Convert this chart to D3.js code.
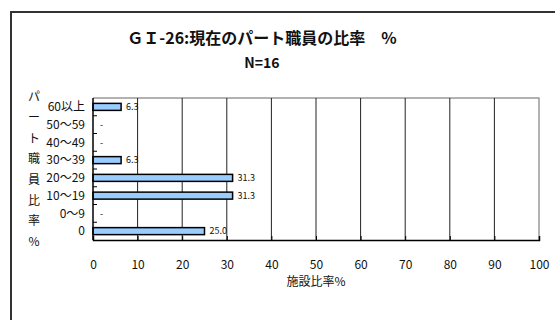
<!DOCTYPE html>
<html>
<head>
<meta charset="utf-8">
<script src="https://cdn.jsdelivr.net/npm/d3@7"></script>
<style>
  body { margin: 0; background: #fff; }
  text { font-family: "Liberation Sans Narrow", "Noto Sans CJK JP", sans-serif; fill: #111; }
  .title { font-family: "Noto Sans CJK JP", sans-serif; }
</style>
</head>
<body>
<svg id="chart"></svg>
<script>
// Chart data
const categories = ["60以上", "50～59", "40～49", "30～39", "20～29", "10～19", "0～9", "0"];
const values = [6.3, 0, 0, 6.3, 31.3, 31.3, 0, 25.0];
const xTicks = [0, 10, 20, 30, 40, 50, 60, 70, 80, 90, 100];
const titleLines = ["ＧＩ-26:現在のパート職員の比率　%", "N=16"];
const yTitle = "パート職員比率%";
const xTitle = "施設比率%";

const width = 555;
const height = 320;
const margin = { left: 93, right: 16, top: 98, bottom: 80 };

const rows = categories.map((c, i) => ({ c, v: values[i] }));

const svg = d3.select("#chart")
  .attr("width", width)
  .attr("height", height);

// Outer chart frame (runs off the right and bottom)
svg.append("rect")
  .attr("x", 11).attr("y", 12)
  .attr("width", 600).attr("height", 400)
  .attr("fill", "none")
  .attr("stroke", "#333")
  .attr("stroke-width", 2);

const x = d3.scaleLinear()
  .domain([0, 100])
  .range([margin.left, width - margin.right]);

const y = d3.scaleBand()
  .domain(categories)
  .range([margin.top, height - margin.bottom]);

const x0 = x(0), x1 = x(100);
const [y0, y1] = y.range();

// Plot frame (top and right in gray)
svg.append("path")
  .attr("d", `M${x0},${y0}H${x1}V${y1}`)
  .attr("fill", "none")
  .attr("stroke", "#999")
  .attr("stroke-width", 1.5);

// Vertical gridlines
svg.selectAll(".grid")
  .data(xTicks.filter(d => d > 0 && d < 100))
  .enter()
  .append("line")
  .attr("x1", d => x(d)).attr("x2", d => x(d))
  .attr("y1", y0).attr("y2", y1)
  .attr("stroke", "#222")
  .attr("stroke-width", 1);

// Bars
svg.selectAll(".bar")
  .data(rows.filter(d => d.v > 0))
  .enter()
  .append("rect")
  .attr("class", "bar")
  .attr("x", x(0))
  .attr("y", d => y(d.c) + y.bandwidth() / 2 - 3.5)
  .attr("height", 7)
  .attr("width", d => x(d.v) - x(0))
  .attr("fill", "#99ccff")
  .attr("stroke", "#000")
  .attr("stroke-width", 1.5);

// Value labels ("-" for empty rows)
svg.selectAll(".val")
  .data(rows)
  .enter()
  .append("text")
  .attr("x", d => d.v > 0 ? x(d.v) + 5 : x(0) + 7)
  .attr("y", d => y(d.c) + y.bandwidth() / 2)
  .attr("dy", "0.35em")
  .attr("font-size", d => d.v > 0 ? 9 : 9)
  .text(d => d.v > 0 ? d.v.toFixed(1) : "-");

// Left axis
const yAxis = svg.append("g")
  .attr("transform", `translate(${x0},0)`);
yAxis.append("line")
  .attr("x1", 0).attr("x2", 0)
  .attr("y1", y0).attr("y2", y1)
  .attr("stroke", "#000").attr("stroke-width", 1.5);
yAxis.selectAll(".tick")
  .data(categories.slice(1))
  .enter()
  .append("line")
  .attr("x1", 0).attr("x2", 4)
  .attr("y1", d => y(d)).attr("y2", d => y(d))
  .attr("stroke", "#000");
yAxis.selectAll(".lab")
  .data(categories)
  .enter()
  .append("text")
  .attr("x", -8)
  .attr("y", d => y(d) + y.bandwidth() / 2)
  .attr("dy", "0.35em")
  .attr("text-anchor", "end")
  .attr("font-size", 12)
  .text(d => d);

// Bottom axis
const xAxis = svg.append("g")
  .attr("transform", `translate(0,${y1})`)
  .call(d3.axisBottom(x).tickValues(xTicks).tickSize(-4).tickPadding(20));
xAxis.select(".domain").attr("stroke", "#000").attr("stroke-width", 1.5);
xAxis.selectAll(".tick line").attr("stroke", "#000");
xAxis.selectAll("text")
  .attr("font-size", 12)
  .attr("font-family", null);

// Axis titles
svg.append("text")
  .attr("x", (x0 + x1) / 2)
  .attr("y", 286)
  .attr("text-anchor", "middle")
  .attr("font-size", 12)
  .text(xTitle);

svg.selectAll(".ytitle")
  .data(Array.from(yTitle))
  .enter()
  .append("text")
  .attr("x", 34)
  .attr("y", (d, i) => 97 + i * 20.7)
  .attr("dy", "0.35em")
  .attr("text-anchor", "middle")
  .attr("font-size", 12)
  .text(d => d);

// Title
svg.selectAll(".title")
  .data(titleLines)
  .enter()
  .append("text")
  .attr("class", "title")
  .attr("x", 262)
  .attr("y", (d, i) => 38 + i * 25)
  .attr("dy", "0.35em")
  .attr("text-anchor", "middle")
  .attr("font-size", (d, i) => i === 0 ? 16 : 14)
  .attr("font-weight", "bold")
  .text(d => d);
</script>
</body>
</html>
